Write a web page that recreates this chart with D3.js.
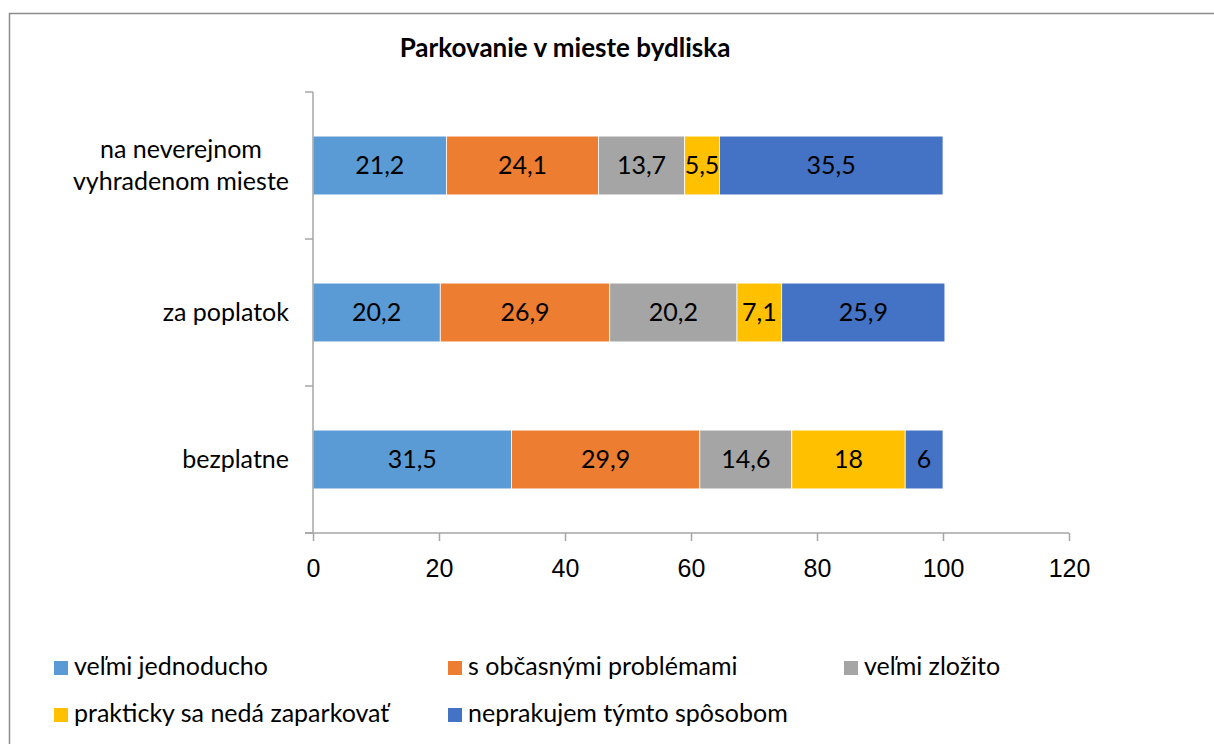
<!DOCTYPE html>
<html>
<head>
<meta charset="utf-8">
<script src="https://cdn.jsdelivr.net/npm/d3@7"></script>
<style>
  body { margin: 0; background: #fff; }
  svg { display: block; font-family: Lato, "Open Sans", sans-serif; }
</style>
</head>
<body>
<svg id="svg" width="1214" height="744"></svg>
<script>
const title = 'Parkovanie v mieste bydliska';
const categories = [
  ['na neverejnom', 'vyhradenom mieste'],
  ['za poplatok'],
  ['bezplatne']
];
const seriesNames = [
  'veľmi jednoducho',
  's občasnými problémami',
  'veľmi zložito',
  'prakticky sa nedá zaparkovať',
  'neprakujem týmto spôsobom'
];
const seriesColors = ['#5b9bd5', '#ed7d31', '#a5a5a5', '#ffc000', '#4472c4'];
const velmiJednoducho = [21.2, 20.2, 31.5];
const obcasneProblemy = [24.1, 26.9, 29.9];
const velmiZlozito = [13.7, 20.2, 14.6];
const nedaSa = [5.5, 7.1, 18];
const neparkujem = [35.5, 25.9, 6];
const xTicks = [0, 20, 40, 60, 80, 100, 120];

const seriesValues = [velmiJednoducho, obcasneProblemy, velmiZlozito, nedaSa, neparkujem];

const svg = d3.select('#svg');
const fmt = v => String(v).replace('.', ',');
const fontSize = 25;

// outer frame (right and bottom edges fall outside the picture)
svg.append('rect')
  .attr('x', 9.5).attr('y', 13.5)
  .attr('width', 1300).attr('height', 900)
  .attr('fill', 'none').attr('stroke', '#8c8c8c').attr('stroke-width', 1.5);

svg.append('text')
  .attr('x', 565).attr('y', 57)
  .attr('text-anchor', 'middle')
  .attr('font-weight', 'bold')
  .attr('font-size', 26)
  .text(title);

const x = d3.scaleLinear().domain([0, 120]).range([313, 1069]);
const y = d3.scaleBand()
  .domain(d3.range(categories.length))
  .range([92, 533])
  .paddingInner(0.6)
  .paddingOuter(0.3);

// stacked rows
const rows = categories.map((c, i) => {
  const row = { i };
  seriesValues.forEach((s, k) => { row[k] = s[i]; });
  return row;
});
const stack = d3.stack().keys(d3.range(seriesNames.length))(rows);

const layers = svg.selectAll('g.layer')
  .data(stack)
  .enter()
  .append('g')
  .attr('class', 'layer')
  .attr('fill', (d, k) => seriesColors[k]);

layers.selectAll('rect')
  .data(d => d)
  .enter()
  .append('rect')
  .attr('x', d => x(d[0]))
  .attr('y', d => y(d.data.i))
  .attr('width', d => x(d[1]) - x(d[0]))
  .attr('height', y.bandwidth())
  .attr('stroke', '#fff')
  .attr('stroke-width', 0.75);

layers.selectAll('text')
  .data(d => d)
  .enter()
  .append('text')
  .attr('x', d => (x(d[0]) + x(d[1])) / 2)
  .attr('y', d => y(d.data.i) + y.bandwidth() / 2)
  .attr('dy', '0.35em')
  .attr('text-anchor', 'middle')
  .attr('font-size', fontSize)
  .attr('fill', '#000')
  .text(d => fmt(+(d[1] - d[0]).toFixed(1)));

// axes
const axisColor = '#a6a6a6';
const xAxis = svg.append('g')
  .attr('transform', 'translate(0,533)')
  .call(d3.axisBottom(x).tickValues(xTicks).tickSize(8).tickSizeOuter(0).tickPadding(18));
xAxis.select('.domain').remove();
xAxis.selectAll('line').attr('stroke', axisColor).attr('stroke-width', 1.5);
xAxis.selectAll('text').attr('font-size', fontSize).attr('fill', '#000').attr('font-family', null);
xAxis.append('line')
  .attr('x1', 305).attr('x2', x(120))
  .attr('stroke', axisColor).attr('stroke-width', 1.5);

// category axis: ticks at band boundaries
const bounds = d3.range(categories.length + 1).map(i => y.range()[0] + i * y.step());
const yAxis = svg.append('g');
yAxis.append('line')
  .attr('x1', x(0)).attr('x2', x(0))
  .attr('y1', bounds[0]).attr('y2', bounds[bounds.length - 1])
  .attr('stroke', axisColor).attr('stroke-width', 1.5);
yAxis.selectAll('line.tick')
  .data(bounds)
  .enter()
  .append('line')
  .attr('class', 'tick')
  .attr('x1', x(0) - 8).attr('x2', x(0))
  .attr('y1', d => d).attr('y2', d => d)
  .attr('stroke', axisColor).attr('stroke-width', 1.5);

const lineH = 32;
categories.forEach((lines, i) => {
  const cy = y(i) + y.bandwidth() / 2;
  const t = yAxis.append('text')
    .attr('font-size', fontSize)
    .attr('fill', '#000')
    .attr('text-anchor', 'middle');
  lines.forEach((ln, j) => {
    t.append('tspan')
      .attr('y', cy + (j - (lines.length - 1) / 2) * lineH)
      .attr('dy', '0.35em')
      .text(ln);
  });
  // center multiline labels on their widest line, right edge at 289
  const w = d3.max(t.selectAll('tspan').nodes(), n => n.getComputedTextLength());
  t.selectAll('tspan').attr('x', 289 - w / 2);
});

// legend
const legendPos = [[54, 675], [448, 675], [844, 675], [54, 722], [448, 722]];
const legend = svg.selectAll('g.legend')
  .data(seriesNames)
  .enter()
  .append('g')
  .attr('class', 'legend')
  .attr('transform', (d, k) => `translate(${legendPos[k][0]},${legendPos[k][1]})`);
legend.append('rect')
  .attr('x', 0).attr('y', -14)
  .attr('width', 14).attr('height', 14)
  .attr('fill', (d, k) => seriesColors[k]);
legend.append('text')
  .attr('x', 20)
  .attr('font-size', fontSize)
  .attr('fill', '#000')
  .text(d => d);
</script>
</body>
</html>
